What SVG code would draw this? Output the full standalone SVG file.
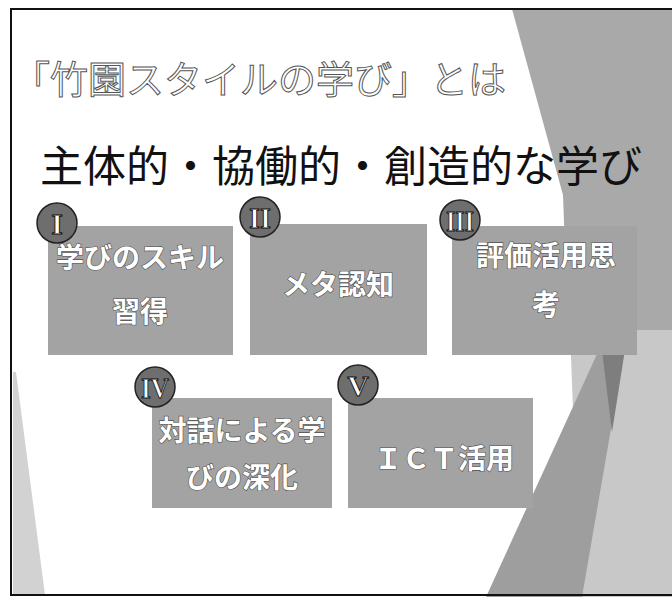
<svg xmlns="http://www.w3.org/2000/svg" width="672" height="597" viewBox="0 0 672 597">
<style>
.box{fill:#a3a3a3;}
.btxt{font-family:"Noto Sans CJK JP","Noto Sans",sans-serif;font-size:28px;font-weight:bold;fill:#ffffff;stroke:#505050;stroke-width:1.2px;paint-order:stroke;text-anchor:middle;}
.badge{fill:#6e6e6e;stroke:#222;stroke-width:1.5px;}
.num{font-family:"Liberation Serif",serif;font-size:30px;font-weight:bold;fill:#ffffff;stroke:#111;stroke-width:1px;text-anchor:middle;}
</style>
<rect x="0" y="0" width="672" height="597" fill="#ffffff"/>
<g id="decor">
<polygon points="13,372 16,372 45,595 13,595" fill="#d2d2d2"/>
<polygon points="512,9 672,9 672,597 640,597 625,330 568,330 563,195" fill="#a9a9a9"/>
<polygon points="570,330 672,330 672,597 580,597" fill="#c8c8c8"/>
<polygon points="608,330 628,330 582,597 486,597" fill="#9e9e9e"/>
<polygon points="598,318 630,318 612,432" fill="#7e7e7e"/>
</g>
<rect x="11" y="9" width="670" height="586" fill="none" stroke="#111" stroke-width="2"/>
<g id="title">
<text x="12" y="93" font-family="Noto Sans CJK JP, sans-serif" font-size="38" fill="#ffffff" stroke="#555" stroke-width="1">「竹園スタイルの学び」とは</text>
</g>
<g id="subtitle">
<text x="40" y="182" font-family="Noto Sans CJK JP, sans-serif" font-size="43" fill="#111">主体的・協働的・創造的な学び</text>
</g>
<g id="node1">
<rect class="box" x="48" y="226" width="185" height="129"/>
<text class="btxt" x="140" y="268">学びのスキル</text>
<text class="btxt" x="140" y="322">習得</text>
<circle class="badge" cx="57" cy="223" r="20"/>
<text class="num" x="57" y="234">I</text>
</g>
<g id="node2">
<rect class="box" x="250" y="224" width="177" height="131"/>
<text class="btxt" x="338" y="295">メタ認知</text>
<circle class="badge" cx="260" cy="217" r="20"/>
<text class="num" x="260" y="228" textLength="22" lengthAdjust="spacingAndGlyphs">II</text>
</g>
<g id="node3">
<rect class="box" x="452" y="226" width="185" height="129"/>
<text class="btxt" x="546" y="266">評価活用思</text>
<text class="btxt" x="546" y="315">考</text>
<circle class="badge" cx="460" cy="220" r="20"/>
<text class="num" x="460" y="231" textLength="28" lengthAdjust="spacingAndGlyphs">III</text>
</g>
<g id="node4">
<rect class="box" x="152" y="398" width="180" height="110"/>
<text class="btxt" x="242" y="441">対話による学</text>
<text class="btxt" x="242" y="488">びの深化</text>
<circle class="badge" cx="155" cy="387" r="20"/>
<text class="num" x="155" y="398" textLength="28" lengthAdjust="spacingAndGlyphs">IV</text>
</g>
<g id="node5">
<rect class="box" x="348" y="398" width="185" height="110"/>
<text class="btxt" x="444" y="469">ＩＣＴ活用</text>
<circle class="badge" cx="358" cy="385" r="20"/>
<text class="num" x="358" y="396">V</text>
</g>
</svg>
